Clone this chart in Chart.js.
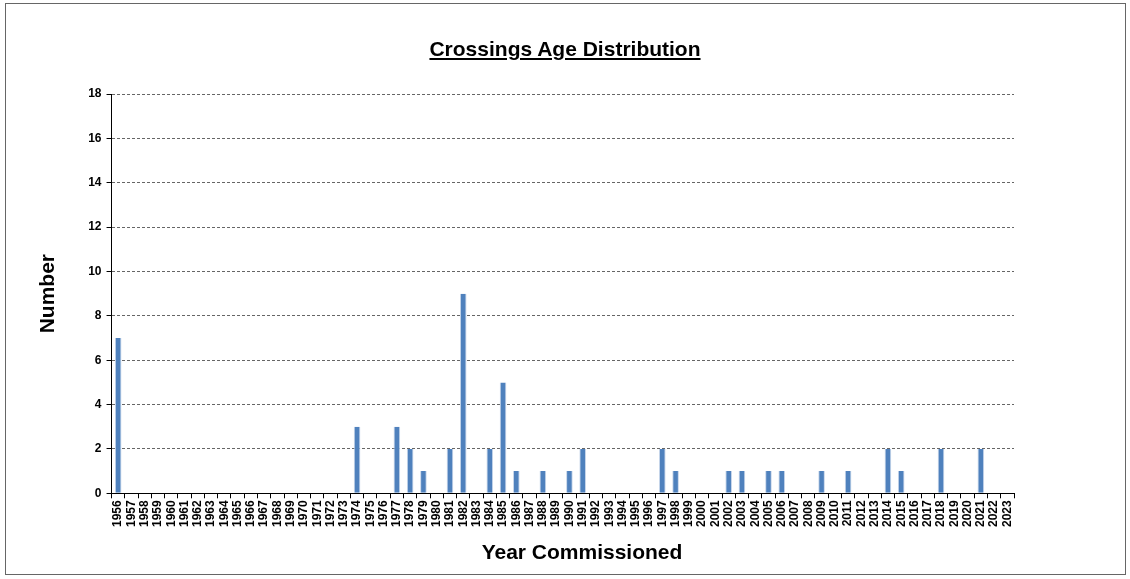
<!DOCTYPE html>
<html>
<head>
<meta charset="utf-8">
<script src="https://cdn.jsdelivr.net/npm/chart.js@4"></script>
<style>
    html, body { margin: 0; padding: 0; background: #fff; }
    body { width: 1130px; height: 579px; position: relative; overflow: hidden; font-family: "Liberation Sans", Arial, sans-serif; }
    .frame { position: absolute; left: 5px; top: 3px; width: 1121px; height: 572px; border: 1px solid #666; box-sizing: border-box; }
    .chart-box { position: absolute; left: 0; top: 0; width: 1130px; height: 579px; }
    .title { position: absolute; left: 0; width: 1130px; top: 37px; text-align: center; font-weight: bold; font-size: 21px; text-decoration: underline; color: #000; }
    .x-title { position: absolute; left: 0; width: 1164px; top: 540px; text-align: center; font-weight: bold; font-size: 21px; color: #000; }
</style>
</head>
<body>
<div class="frame"></div>
<div class="chart-box"><canvas id="chart" width="1130" height="579"></canvas></div>
<div class="title">Crossings Age Distribution</div>
<div class="x-title">Year Commissioned</div>
<script>
// years 1956..2023, one category each
const years = [
    "1956", "1957", "1958", "1959", "1960", "1961", "1962", "1963", "1964", "1965",
    "1966", "1967", "1968", "1969", "1970", "1971", "1972", "1973", "1974", "1975",
    "1976", "1977", "1978", "1979", "1980", "1981", "1982", "1983", "1984", "1985",
    "1986", "1987", "1988", "1989", "1990", "1991", "1992", "1993", "1994", "1995",
    "1996", "1997", "1998", "1999", "2000", "2001", "2002", "2003", "2004", "2005",
    "2006", "2007", "2008", "2009", "2010", "2011", "2012", "2013", "2014", "2015",
    "2016", "2017", "2018", "2019", "2020", "2021", "2022", "2023"
];

// crossings commissioned per year (same order as years)
const counts = [
    7, 0, 0, 0, 0, 0, 0, 0, 0, 0,
    0, 0, 0, 0, 0, 0, 0, 0, 3, 0,
    0, 3, 2, 1, 0, 2, 9, 0, 2, 5,
    1, 0, 1, 0, 1, 2, 0, 0, 0, 0,
    0, 2, 1, 0, 0, 0, 1, 1, 0, 1,
    1, 0, 0, 1, 0, 1, 0, 0, 2, 1,
    0, 0, 2, 0, 0, 2, 0, 0
];

const yTicks = [0, 2, 4, 6, 8, 10, 12, 14, 16, 18];

const tickFont = { family: "'Liberation Sans', Arial, sans-serif", size: 12, weight: 'bold' };

new Chart(document.querySelector('#chart'), {
    type: 'bar',
    data: {
        labels: years,
        datasets: [{
            label: 'Number',
            data: counts,
            backgroundColor: '#4f81bd',
            borderColor: '#c6d5ea',
            borderWidth: { left: 1, right: 1, top: 0, bottom: 0 },
            barPercentage: 0.5,
            categoryPercentage: 1
        }]
    },
    options: {
        responsive: false,
        animation: false,
        layout: { padding: { left: 36, right: 116, top: 94, bottom: 50 } },
        plugins: {
            legend: { display: false },
            tooltip: { enabled: false }
        },
        scales: {
            x: {
                grid: {
                    drawOnChartArea: false,
                    drawTicks: true,
                    tickLength: 5,
                    tickColor: '#000',
                    offset: true
                },
                border: { color: '#000', width: 1 },
                ticks: {
                    color: '#000',
                    font: tickFont,
                    minRotation: 90,
                    maxRotation: 90,
                    autoSkip: false,
                    padding: 2
                }
            },
            y: {
                min: 0,
                max: 18,
                afterBuildTicks: (axis) => { axis.ticks = yTicks.map(v => ({ value: v })); },
                grid: {
                    color: (ctx) => ctx.tick && ctx.tick.value === 0 ? '#000' : '#666',
                    tickLength: 5,
                    tickColor: '#000',
                    tickBorderDash: []
                },
                border: { color: '#000', width: 1, dash: [3, 2] },
                ticks: {
                    color: '#000',
                    font: tickFont,
                    padding: 5
                },
                title: {
                    display: true,
                    text: 'Number',
                    color: '#000',
                    font: { family: "'Liberation Sans', Arial, sans-serif", size: 21, weight: 'bold' },
                    padding: { top: 0, bottom: 22 }
                }
            }
        }
    }
});
</script>
</body>
</html>
